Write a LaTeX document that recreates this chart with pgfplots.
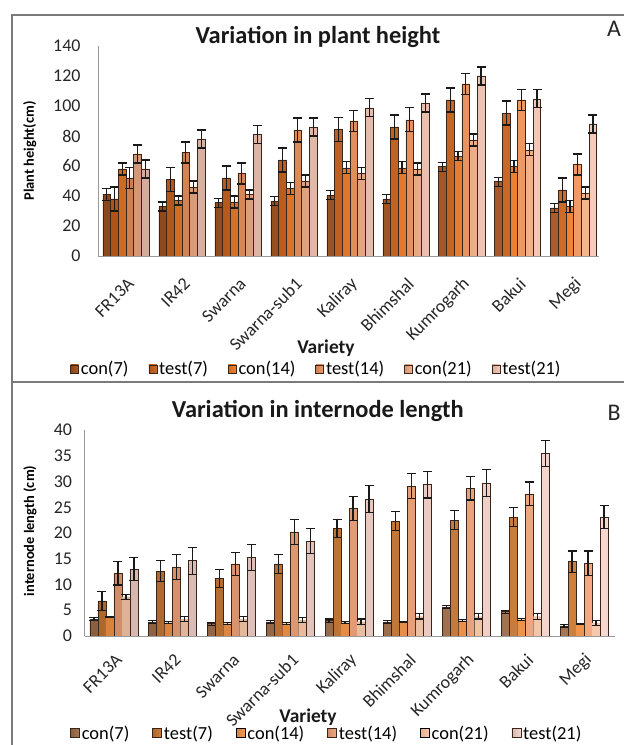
\documentclass[border=0pt]{standalone}
\usepackage{fontspec}
\setmainfont{Carlito}
\usepackage{pgfplots}
\usepackage{pgfplotstable}
\pgfplotsset{compat=1.18}

\definecolor{a1}{HTML}{A5521C}
\definecolor{a2}{HTML}{CA621C}
\definecolor{a3}{HTML}{EE7C28}
\definecolor{a4}{HTML}{F0955E}
\definecolor{a5}{HTML}{F4B08A}
\definecolor{a6}{HTML}{F6C8B6}
\definecolor{b1}{HTML}{A06E4A}
\definecolor{b2}{HTML}{C97833}
\definecolor{b3}{HTML}{F09045}
\definecolor{b4}{HTML}{F2A47A}
\definecolor{b5}{HTML}{F5C6A6}
\definecolor{b6}{HTML}{F7D6CE}
\definecolor{frame}{HTML}{7A7A7A}
\definecolor{barline}{HTML}{3A2518}

\pgfplotstableread{
x c7 c7e t7 t7e c14 c14e t14 t14e c21 c21e t21 t21e
0 41   4 38   8 58   4 52   7 68   6 58    6
1 33   3 51   8 37   3 69   7 46   4 78    6
2 35.5 3 52   8 36   4 55   7 41   3 81    6
3 36.5 3 64   8 45   4 84   8 50   4 86    6
4 40.5 3 84.5 8 58.7 4 90   7 55   4 98.7  6
5 38   3 86   8 58.7 4 90.7 8 58   4 102   6
6 59.6 3 104  8 66.5 3 114.7 7 77.3 4 120  6
7 49.5 3 95.3 8 59.5 4 104  7 70.7 4 104.7 6
8 32   3 44   8 33   4 61   7 42   4 88    6
}\tblA

\pgfplotstableread{
x c7 c7e t7 t7e c14 c14e t14 t14e c21 c21e t21 t21e
0 3.3 0.3 6.8  1.9 3.7 0.15 12.2 2.3 7.6 0.5 13.0 2.3
1 2.7 0.3 12.6 2.0 2.6 0.15 13.4 2.4 3.3 0.5 14.6 2.6
2 2.4 0.3 11.2 1.8 2.4 0.15 14.0 2.3 3.3 0.5 15.2 2.5
3 2.7 0.3 14.0 1.9 2.4 0.15 20.2 2.4 3.1 0.5 18.4 2.4
4 3.0 0.3 20.9 1.8 2.6 0.15 24.8 2.3 2.8 0.5 26.6 2.6
5 2.7 0.3 22.3 1.9 2.7 0.15 29.1 2.4 3.8 0.5 29.4 2.6
6 5.6 0.3 22.5 1.9 3.0 0.15 28.7 2.3 3.8 0.5 29.7 2.6
7 4.7 0.3 23.1 1.8 3.2 0.15 27.6 2.3 3.8 0.6 35.5 2.5
8 1.9 0.3 14.4 2.1 2.3 0.15 14.1 2.4 2.5 0.5 23.1 2.3
}\tblB

\pgfplotsset{
  panel/.style={
    scale only axis,
    ybar=0pt,
    ymin=0,
    xmin=-0.5,
    axis lines*=left,
    axis line style={draw=gray!80, line width=0.9bp},
    major tick length=0pt,
    xtick={0,...,8},
    xticklabels={FR13A,IR42,Swarna,Swarna-sub1,Kaliray,Bhimshal,Kumrogarh,Bakui,Megi},
    /pgf/number format/assume math mode=true,
    yticklabel style={font=\fontsize{18}{20}\selectfont, text=black!85},
    legend columns=6,
    legend cell align=left,
    legend style={draw=none, fill=none, font=\fontsize{18.5}{20}\selectfont, inner sep=0pt,
      nodes={inner sep=2bp}},
    error bars/y dir=both,
    error bars/y explicit,
    error bars/error bar style={black!90, line width=1.1bp},
    error bars/error mark options={black!90, line width=1.1bp, mark size=4.5bp, rotate=90},
  },
  bs/.style={draw=barline, line width=0.7bp, left color=#1!86!black, right color=#1!94!white},
  bn/.style={draw=none, left color=#1!90!black, right color=#1!95!white},
}

\begin{document}
\begin{tikzpicture}
\useasboundingbox (0,0) rectangle (624bp,745bp);
\fill[white] (0,0) rectangle (624bp,745bp);
\draw[frame, line width=1.3bp] (12bp,0bp) -- (12bp,730bp) -- (624bp,730bp);
\draw[frame, line width=1.3bp] (12bp,363bp) -- (624bp,363bp);
\node[font=\fontsize{24}{26}\selectfont, text=black!85] at (614bp,716bp) {A};
\node[font=\fontsize{24}{26}\selectfont, text=black!85] at (614bp,332bp) {B};

% ---------------- Panel A
\begin{axis}[panel,
  at={(98bp,489bp)}, anchor=south west,
  width=501bp, height=210bp,
  xmax=8.45, ymax=140, ytick={0,20,...,140},
  bar width=7.67bp,
  yticklabel style={xshift=-14bp},
  xticklabel style={font=\fontsize{18}{20}\selectfont, text=black!85, xshift=5bp, yshift=-25bp, rotate=45, anchor=east, inner sep=0pt},
  title={Variation in plant height},
  title style={at={(axis description cs:0.439,1.014)}, anchor=center, font=\bfseries\fontsize{24.5}{27}\selectfont, text=black!90},
  xlabel={Variety},
  xlabel style={at={(axis description cs:0.455,-0.438)}, anchor=center, font=\bfseries\fontsize{19.5}{21}\selectfont, text=black!90},
  ylabel={Plant height(cm)},
  ylabel style={at={(axis description cs:-0.136,0.5)}, anchor=center, rotate=0, font=\bfseries\fontsize{14.5}{16}\selectfont},
  legend style={at={(axis description cs:0.436,-0.538)}, anchor=center,
     /tikz/every even column/.append style={column sep=18bp}},
  legend image code/.code={\draw[#1, line width=0.6bp] (0bp,-4bp) rectangle (8bp,4bp);},
]
\addplot[bs=a1] table[x=x, y=c7,  y error=c7e]  {\tblA};
\addplot[bs=a2] table[x=x, y=t7,  y error=t7e]  {\tblA};
\addplot[bs=a3] table[x=x, y=c14, y error=c14e] {\tblA};
\addplot[bs=a4] table[x=x, y=t14, y error=t14e] {\tblA};
\addplot[bs=a5] table[x=x, y=c21, y error=c21e] {\tblA};
\addplot[bs=a6] table[x=x, y=t21, y error=t21e] {\tblA};
\legend{con(7),test(7),con(14),test(14),con(21),test(21)}
\end{axis}

% ---------------- Panel B
\begin{axis}[panel,
  at={(84.6bp,109bp)}, anchor=south west,
  width=530bp, height=206bp,
  xmax=8.52, ymax=40, ytick={0,5,...,40},
  bar width=8bp,
  yticklabel style={xshift=-9bp},
  xticklabel style={font=\fontsize{18}{20}\selectfont, text=black!85, xshift=5bp, yshift=-21bp, rotate=45, anchor=east, inner sep=0pt},
  title={Variation in internode length},
  title style={at={(axis description cs:0.44,1.063)}, anchor=center, font=\bfseries\fontsize{24.5}{27}\selectfont, text=black!90},
  xlabel={Variety},
  xlabel style={at={(axis description cs:0.4215,-0.393)}, anchor=center, font=\bfseries\fontsize{19.5}{21}\selectfont, text=black!90},
  ylabel={internode length (cm)},
  ylabel style={at={(axis description cs:-0.103,0.51)}, anchor=center, rotate=0, font=\bfseries\fontsize{14.5}{16}\selectfont},
  legend style={at={(axis description cs:0.457,-0.471)}, anchor=center,
     /tikz/every even column/.append style={column sep=21bp}},
  legend image code/.code={\draw[#1, line width=0.6bp] (0bp,-4.5bp) rectangle (9bp,4.5bp);},
]
\addplot[bs=b1] table[x=x, y=c7,  y error=c7e]  {\tblB};
\addplot[bs=b2] table[x=x, y=t7,  y error=t7e]  {\tblB};
\addplot[bn=b3] table[x=x, y=c14, y error=c14e] {\tblB};
\addplot[bs=b4] table[x=x, y=t14, y error=t14e] {\tblB};
\addplot[bn=b5] table[x=x, y=c21, y error=c21e] {\tblB};
\addplot[bs=b6] table[x=x, y=t21, y error=t21e] {\tblB};
\legend{con(7),test(7),con(14),test(14),con(21),test(21)}
\end{axis}
\end{tikzpicture}
\end{document}
